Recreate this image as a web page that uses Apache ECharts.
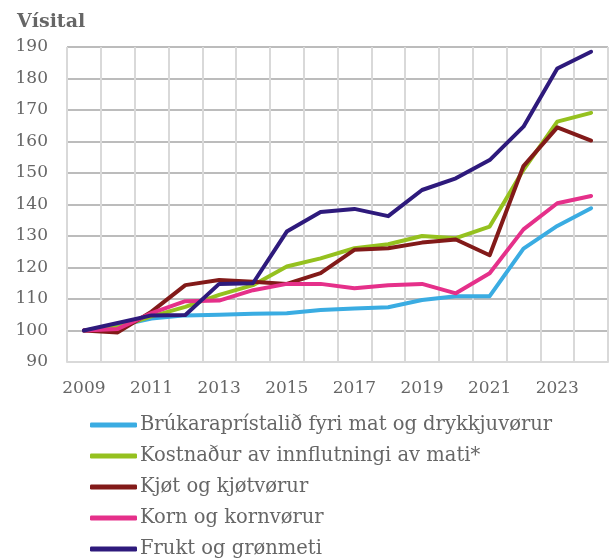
<!DOCTYPE html>
<html>
<head>
<meta charset="utf-8">
<script src="https://cdn.jsdelivr.net/npm/echarts@6/dist/echarts.min.js"></script>
<style>
  html, body { margin: 0; padding: 0; background: #fff; }
  #chart { width: 611px; height: 559px; }
</style>
</head>
<body>
<div id="chart"></div>
<script>
// ár
const years = ['2009', '2010', '2011', '2012', '2013', '2014', '2015', '2016',
               '2017', '2018', '2019', '2020', '2021', '2022', '2023', '2024'];

// vísital, 2009 = 100
const brukarapristal = [100, 101.5, 103.8, 104.8, 105, 105.3, 105.5, 106.5, 107, 107.4, 109.7, 110.9, 110.9, 126, 133.2, 138.8];
const innflutningur  = [100, 101, 104.5, 107.5, 111.3, 114.4, 120.3, 122.9, 126.1, 127.4, 130, 129.3, 133, 151, 166.3, 169.1];
const kjot           = [100, 99.4, 106, 114.4, 116, 115.5, 114.8, 118.2, 125.6, 126.1, 127.9, 128.9, 123.9, 152.2, 164.5, 160.3];
const korn           = [100, 100.5, 105.5, 109.3, 109.5, 112.8, 114.8, 114.8, 113.4, 114.4, 114.8, 111.8, 118.2, 132.1, 140.4, 142.7];
const frukt          = [100, 102.4, 104.8, 104.9, 114.8, 115, 131.4, 137.6, 138.6, 136.3, 144.6, 148.3, 154.1, 164.7, 183.2, 188.5];

const names = [
  'Brúkaraprístalið fyri mat og drykkjuvørur',
  'Kostnaður av innflutningi av mati*',
  'Kjøt og kjøtvørur',
  'Korn og kornvørur',
  'Frukt og grønmeti'
];
const colors = ['#3aace2', '#95c11f', '#821a19', '#e5308a', '#2e1a7c'];

const textColor = '#666666';
const font = '"DejaVu Serif", "Liberation Serif", serif';

const chart = echarts.init(document.getElementById('chart'));

function line(name, data, color) {
  return {
    name: name,
    type: 'line',
    data: data,
    symbol: 'none',
    lineStyle: { color: color, width: 4, cap: 'round', join: 'round' },
    itemStyle: { color: color }
  };
}

chart.setOption({
  animation: false,
  color: colors,
  textStyle: { fontFamily: font },
  title: {
    text: 'Vísital',
    left: 12,
    top: 8,
    textStyle: { fontFamily: font, fontSize: 19, fontWeight: 'bold', color: textColor }
  },
  legend: {
    orient: 'vertical',
    left: 90,
    top: 414,
    height: 160,
    padding: 0,
    itemWidth: 47,
    itemHeight: 5,
    itemGap: 9,
    icon: 'roundRect',
    data: names,
    textStyle: { fontFamily: font, fontSize: 19.5, color: textColor, lineHeight: 22, padding: [0, 0, 0, -2] }
  },
  grid: { left: 67, right: 3, top: 47, bottom: 197, containLabel: false },
  xAxis: {
    type: 'category',
    data: years,
    boundaryGap: true,
    axisLine: { lineStyle: { color: '#d9d9d9', width: 2 } },
    axisTick: { show: false },
    axisLabel: { interval: 1, margin: 18, fontFamily: font, fontSize: 17, color: textColor },
    splitLine: { show: true, interval: 0, lineStyle: { color: '#d9d9d9', width: 2 } }
  },
  yAxis: {
    type: 'value',
    min: 90,
    max: 190,
    interval: 10,
    axisLine: { show: false },
    axisTick: { show: false },
    axisLabel: { margin: 19, fontFamily: font, fontSize: 17, color: textColor },
    splitLine: { lineStyle: { color: '#a6a6a6', width: 1.5 } }
  },
  series: [
    line(names[0], brukarapristal, colors[0]),
    line(names[1], innflutningur, colors[1]),
    line(names[2], kjot, colors[2]),
    line(names[3], korn, colors[3]),
    line(names[4], frukt, colors[4])
  ]
});
</script>
</body>
</html>
